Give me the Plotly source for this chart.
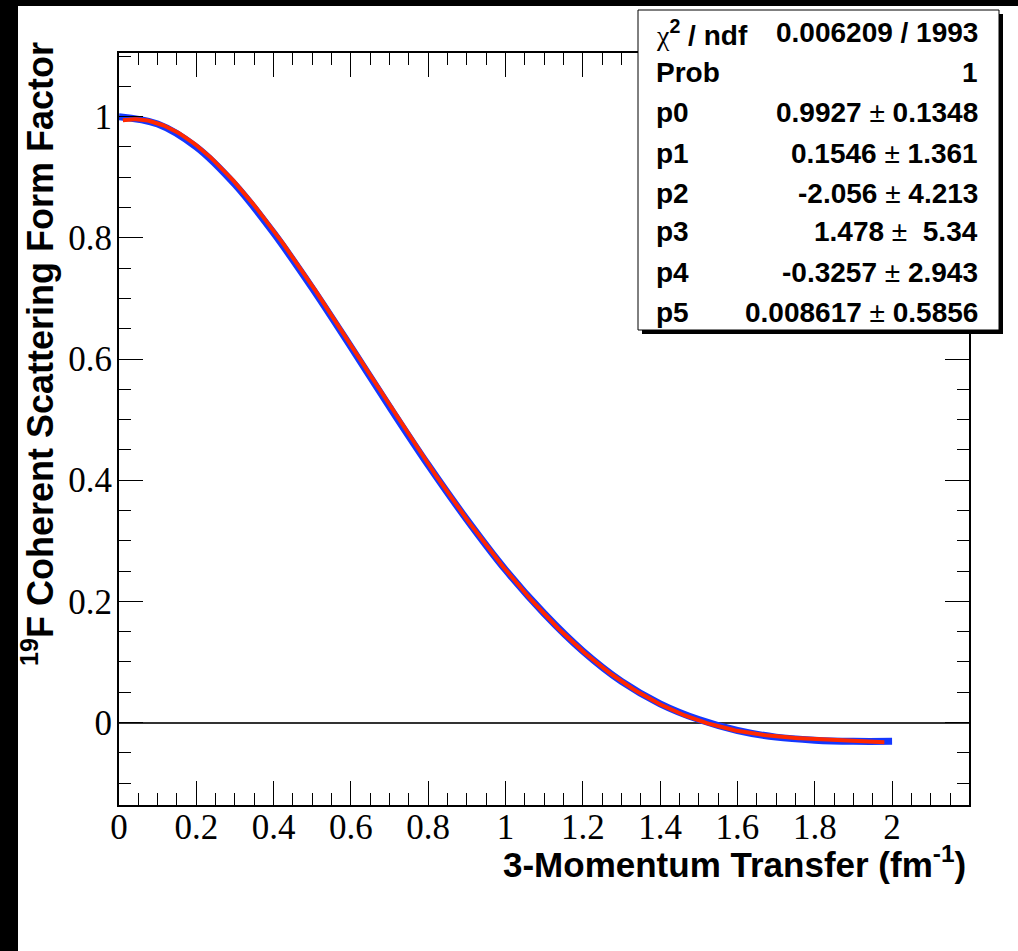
import numpy as np
import plotly.graph_objects as go

# Form factor data (3-momentum transfer in fm^-1)
q_data = [0.0, 0.1, 0.2, 0.3, 0.4, 0.5, 0.6, 0.7, 0.8, 0.9, 1.0,
          1.1, 1.2, 1.3, 1.4, 1.5, 1.6, 1.7, 1.8, 1.9, 2.0]
ff_data = [1.000, 0.988, 0.950, 0.888, 0.808, 0.717, 0.620, 0.521, 0.425, 0.335, 0.252,
           0.180, 0.118, 0.068, 0.031, 0.005, -0.013, -0.024, -0.029, -0.031, -0.031]

# Fitted pol5 parameters and errors
par_names = ["p0", "p1", "p2", "p3", "p4", "p5"]
par_values = [0.9927, 0.1546, -2.056, 1.478, -0.3257, 0.008617]
par_errors = ["0.1348", "1.361", "4.213", "\u00a05.34", "2.943", "0.5856"]
par_value_text = ["0.9927", "0.1546", "-2.056", "1.478", "-0.3257", "0.008617"]
chi2_text = "0.006209 / 1993"
prob_text = "1"
fit_range = [0.01, 1.98]

# Evaluate the fit polynomial over its range
q_fit = np.linspace(fit_range[0], fit_range[1], 400)
ff_fit = np.polynomial.polynomial.polyval(q_fit, par_values)

W, H = 1018, 951
L, R, T, B = 119, 49, 53, 146
PW, PH = W - L - R, H - T - B


def px(x):
    return (x - L) / PW


def py(y):
    return (H - B - y) / PH


fig = go.Figure()
fig.add_trace(go.Scatter(x=q_data, y=ff_data, mode="lines",
                         line=dict(color="#1437ff", width=7, shape="spline"),
                         showlegend=False, hoverinfo="skip"))
fig.add_trace(go.Scatter(x=q_fit, y=ff_fit, mode="lines",
                         line=dict(color="#ff2800", width=4),
                         showlegend=False, hoverinfo="skip"))

tickfont = dict(family="Liberation Serif", size=35, color="black")
axis_common = dict(
    showline=True, linecolor="black", linewidth=2, mirror="ticks",
    ticks="inside", ticklen=24, tickwidth=1, tickcolor="black",
    showgrid=False, tickfont=tickfont, tick0=0, dtick=0.2,
    minor=dict(ticks="inside", ticklen=12, tickwidth=1, tickcolor="black",
               dtick=0.05, tick0=0, showgrid=False),
)
fig.update_xaxes(range=[0, 2.199], zeroline=False, ticklabelstandoff=-10, **axis_common)
fig.update_yaxes(range=[-0.136, 1.105], zeroline=True, zerolinecolor="#333333",
                 zerolinewidth=1.5, ticklabelstandoff=-2, **axis_common)

shapes = [
    # frame edges of the canvas
    dict(type="rect", xref="paper", yref="paper", x0=px(0), x1=px(18), y0=py(H), y1=py(0),
         fillcolor="black", line=dict(width=0), layer="above"),
    dict(type="rect", xref="paper", yref="paper", x0=px(0), x1=px(W), y0=py(6), y1=py(0),
         fillcolor="black", line=dict(width=0), layer="above"),
    # stats box shadow and box
    dict(type="rect", xref="paper", yref="paper", x0=px(642), x1=px(1003), y0=py(334), y1=py(14),
         fillcolor="black", line=dict(width=0), layer="above"),
    dict(type="rect", xref="paper", yref="paper", x0=px(638), x1=px(999), y0=py(330), y1=py(10),
         fillcolor="white", line=dict(color="black", width=1), layer="above"),
]

statfont = dict(family="Liberation Sans", size=28, color="black")
annotations = []
rows_left = ["<span style='font-family:Liberation Serif'>\u03c7</span><b><sup>2</sup> / ndf</b>",
             "<b>Prob</b>"] + [f"<b>{n}</b>" for n in par_names]
rows_right = [f"<b>{chi2_text}</b>", f"<b>{prob_text}</b>"] + [
    f"<b>{v}</b> \u00b1 <b>{e}</b>" for v, e in zip(par_value_text, par_errors)]
row_y = [33, 73, 113, 153, 193, 232, 272, 312]
for lt, rt, yy in zip(rows_left, rows_right, row_y):
    annotations.append(dict(text=lt, xref="paper", yref="paper", x=px(654), y=py(yy),
                            xanchor="left", yanchor="middle", showarrow=False, font=statfont))
    annotations.append(dict(text=rt, xref="paper", yref="paper", x=px(980), y=py(yy),
                            xanchor="right", yanchor="middle", showarrow=False, font=statfont))

titlefont = dict(family="Liberation Sans", size=35, color="black")
annotations.append(dict(text="<b>3-Momentum Transfer (fm<sup>-1</sup>)</b>",
                        xref="paper", yref="paper", x=px(968), y=py(862),
                        xanchor="right", yanchor="middle", showarrow=False, font=titlefont))
annotations.append(dict(text="<b><sup>19</sup>F Coherent Scattering Form Factor</b>",
                        xref="paper", yref="paper", x=px(38), y=py(354), textangle=-90,
                        xanchor="center", yanchor="middle", showarrow=False,
                        font=dict(family="Liberation Sans", size=36, color="black")))

fig.update_layout(
    width=W, height=H, autosize=False,
    margin=dict(l=L, r=R, t=T, b=B, pad=0),
    paper_bgcolor="white", plot_bgcolor="white",
    shapes=shapes, annotations=annotations,
)

fig.write_html("out.html", config={"displayModeBar": False})
